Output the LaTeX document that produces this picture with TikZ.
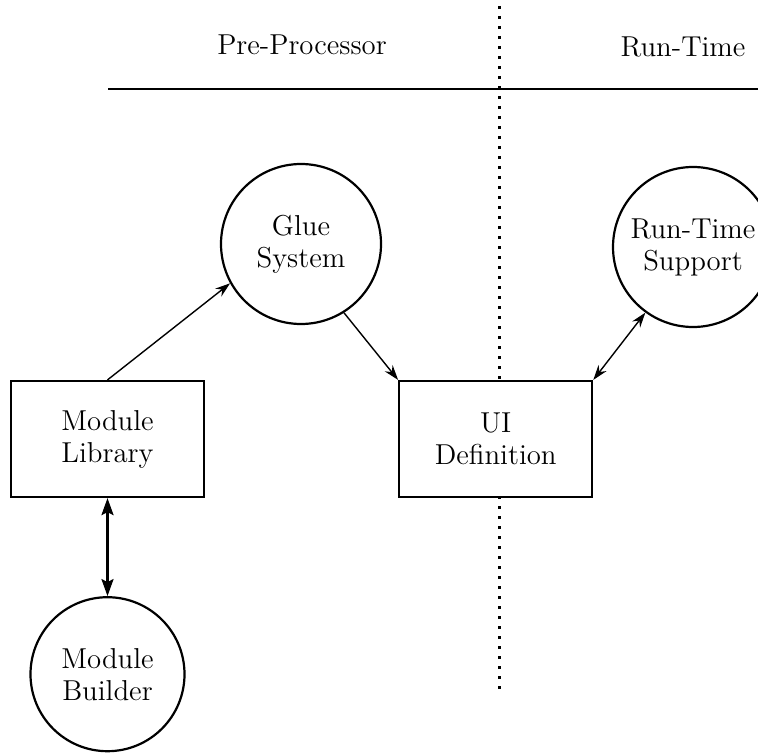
\documentclass[tikz,border=0pt]{standalone}
\usepackage{tikz}
\usetikzlibrary{positioning, arrows.meta}

\begin{document}
\begin{tikzpicture}[
        x=0.5pt, y=-0.5pt,
        node distance=49pt and 96.5pt,
        tool/.style={circle, draw=black, line width=1.1pt, fill=white, minimum size=80pt, inner sep=0pt, align=center, font={\fontsize{14.4}{16}\selectfont}},
        box/.style={rectangle, draw=black, line width=1.1pt, fill=white, minimum width=96.5pt, minimum height=58pt, align=center, font={\fontsize{14.4}{16}\selectfont}},
        heading/.style={font={\fontsize{14.4}{16}\selectfont}, inner sep=0pt},
        arrow/.style={-{Stealth[length=7.5pt, width=5pt, inset=2.5pt]}, line width=0.7pt},
        twoway/.style={{Stealth[length=7.5pt, width=5pt, inset=2.5pt]}-{Stealth[length=7.5pt, width=5pt, inset=2.5pt]}, line width=0.7pt},
        bigway/.style={{Stealth[length=8.5pt, width=6pt, inset=1.5pt]}-{Stealth[length=8.5pt, width=6pt, inset=1.5pt]}, line width=1.3pt}
    ]
    \useasboundingbox (0,0) rectangle (758,753);

    % phase headings and separators
    \node[heading] (pre) at (302,45) {Pre-Processor};
    \node[heading] (run) at (683,47) {Run-Time};
    \coordinate (rulestart) at (108,89);
    \coordinate (ruleend) at (758,89);
    \coordinate (divtop) at (499,6);
    \coordinate (divbot) at (499,690);
    \draw[line width=1.2pt] (rulestart) -- (ruleend);
    \draw[line width=1.5pt, dash pattern=on 1.5pt off 3.5pt] (divtop) -- (divbot);

    \node[tool] (glue) at (301,244) {Glue\\System};
    \node[tool] (rts) at (693,247) {Run-Time\\Support};
    \node[box] (lib) at (107.5,439) {Module\\Library};
    \node[box, right=of lib] (ui) {UI\\Definition};
    \node[tool, minimum size=77pt, below=of lib] (builder) {Module\\Builder};

    \draw[arrow] (lib.north) -- (glue.209);
    \draw[arrow] (glue.302) -- (ui.north west);
    \draw[twoway] (ui.north east) -- (rts.234);
    \draw[bigway] (lib.south) -- (builder.north);
\end{tikzpicture}
\end{document}
